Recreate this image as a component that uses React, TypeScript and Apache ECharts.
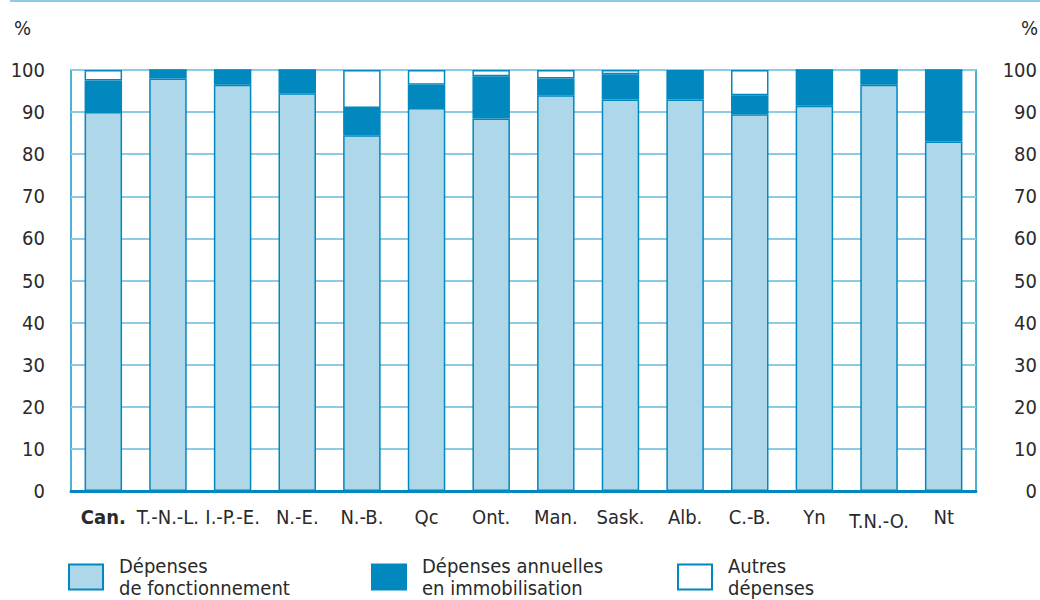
import React, { useEffect, useRef } from "react";
import * as echarts from "echarts";

const categories = ["Can.", "T.-N.-L.", "I.-P.-E.", "N.-E.", "N.-B.", "Qc", "Ont.", "Man.", "Sask.", "Alb.", "C.-B.", "Yn", "T.N.-O.", "Nt"];
const operating = [90, 98, 96.5, 94.5, 84.5, 91, 88.5, 94, 93, 93, 89.5, 91.5, 96.5, 83];
const capital = [7.5, 2, 3.5, 5.5, 6.5, 5.5, 10, 4, 6, 6.5, 4.5, 8.5, 3.5, 17];
const other = [2.5, 0, 0, 0, 9, 3.5, 1.5, 2, 1, 0.5, 6, 0, 0, 0];
const yTicks = [0, 10, 20, 30, 40, 50, 60, 70, 80, 90, 100];
const seriesNames = ["Dépenses\nde fonctionnement", "Dépenses annuelles\nen immobilisation", "Autres\ndépenses"];

const FONT = "'Liberation Sans Narrow', 'DejaVu Sans Condensed', 'Liberation Sans', sans-serif";
const DARK = "#0088bf";
const LIGHT = "#aed8ea";
const GRID = "#8ccbe3";
const TEXT = "#2a2a2a";

export default function App() {
  const ref = useRef<HTMLDivElement>(null);
  useEffect(() => {
    document.body.style.margin = "0";
    const chart = echarts.init(ref.current!, null, { renderer: "svg" });
    const barStyle = (color: string) => ({ color, borderColor: DARK, borderWidth: 1.5 });
    const legendPos = [68, 371, 677];
    chart.setOption({
      animation: false,
      textStyle: { fontFamily: FONT },
      grid: { left: 71, right: 62, top: 70, bottom: 109, show: true, borderColor: "#1596cc", borderWidth: 1.5, backgroundColor: "transparent" },
      xAxis: {
        type: "category",
        data: categories,
        axisTick: { show: false },
        axisLine: { show: true, lineStyle: { color: DARK, width: 3 } },
        axisLabel: {
          interval: 0,
          margin: 16,
          color: TEXT,
          fontSize: 20,
          fontFamily: FONT,
          formatter: (v: string) => (v === "Can." ? "{b|" + v + "}" : v === "T.N.-O." ? "{d|" + v + "}" : v),
          rich: {
            b: { fontWeight: "bold", fontSize: 20, fontFamily: FONT, color: TEXT },
            d: { fontSize: 20, fontFamily: FONT, color: TEXT, padding: [4, 0, 0, 0] },
          },
        },
      },
      yAxis: [
        {
          type: "value",
          min: 0,
          max: 100,
          interval: 10,
          axisLine: { show: false },
          axisTick: { show: false },
          splitLine: { show: true, lineStyle: { color: GRID, width: 2 } },
          axisLabel: { color: TEXT, fontSize: 20, fontFamily: FONT, margin: 26, formatter: (v: number) => (yTicks.includes(v) ? String(v) : "") },
        },
        {
          type: "value",
          position: "right",
          min: 0,
          max: 100,
          interval: 10,
          axisLine: { show: false },
          axisTick: { show: false },
          splitLine: { show: false },
          axisLabel: { color: TEXT, fontSize: 20, fontFamily: FONT, margin: 61, align: "right", formatter: (v: number) => (yTicks.includes(v) ? String(v) : "") },
        },
      ],
      legend: seriesNames.map((n, i) => ({
        data: [n],
        left: legendPos[i],
        top: 555,
        padding: 0,
        itemWidth: 34,
        itemHeight: 25,
        icon: "rect",
        itemStyle: { borderWidth: 2, borderColor: DARK },
        textStyle: { color: TEXT, fontSize: 20, fontFamily: FONT, lineHeight: 22, padding: [0, 0, 0, 11] },
        selectedMode: false,
      })),
      graphic: [
        { type: "line", shape: { x1: 10, y1: 1, x2: 1040, y2: 1 }, style: { stroke: GRID, lineWidth: 2 } },
        { type: "text", left: 14, top: 18, style: { text: "%", fontSize: 20, fontFamily: FONT, fill: TEXT } },
        { type: "text", left: 1021, top: 18, style: { text: "%", fontSize: 20, fontFamily: FONT, fill: TEXT } },
      ],
      series: [
        { name: seriesNames[0], type: "bar", stack: "t", barWidth: "58%", data: operating, itemStyle: barStyle(LIGHT) },
        { name: seriesNames[1], type: "bar", stack: "t", barWidth: "58%", data: capital, itemStyle: barStyle(DARK) },
        { name: seriesNames[2], type: "bar", stack: "t", barWidth: "58%", data: other, itemStyle: barStyle("#ffffff") },
      ],
    });
    return () => chart.dispose();
  }, []);
  return <div ref={ref} style={{ width: 1040, height: 600 }} />;
}
